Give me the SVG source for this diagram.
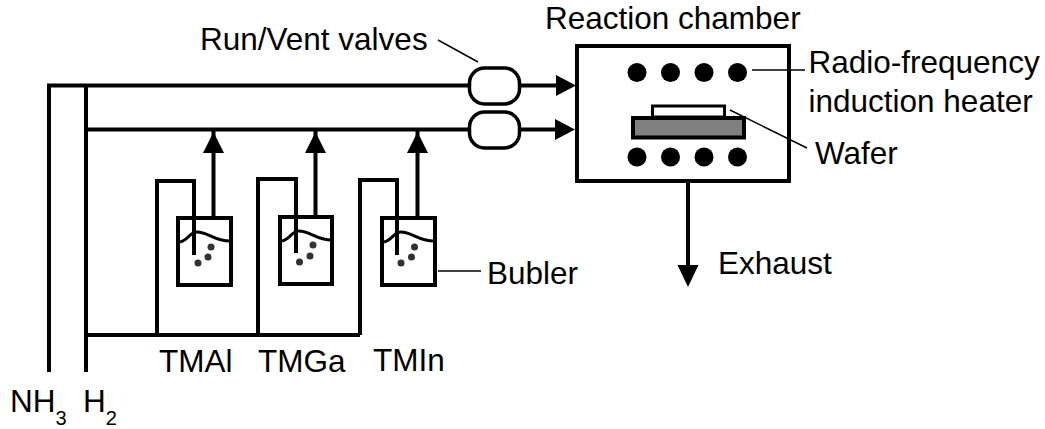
<svg xmlns="http://www.w3.org/2000/svg" width="1045" height="429" viewBox="0 0 1045 429">
<style>
.l{fill:none;stroke:#000;stroke-width:4}
.t{stroke:#000;stroke-width:1.500;fill:none}
.h{fill:#000}
.v{fill:#fff;stroke:#000;stroke-width:3.500}
.b{fill:#fff;stroke:#000;stroke-width:4}
.bub{fill:#333}
.w{fill:none;stroke:#000;stroke-width:3}
text{font-family:"Liberation Sans",Arial,sans-serif;font-size:31.500px;fill:#000}
.s{font-size:20px}
</style>
<rect width="1045" height="429" fill="#fff"/>
<g id="bubbler-tmal">
<rect class="b" x="178" y="218" width="53" height="67"/>
<path class="l" d="M157 335V181H194V255"/>
<path class="w" d="M180 242C188 240 190 232 197 232C208 232 214 241 230 241"/>
<circle class="bub" cx="211" cy="247" r="3.500"/><circle class="bub" cx="208" cy="257" r="3.500"/><circle class="bub" cx="198" cy="263" r="3.500"/>
</g>
<g id="bubbler-tmga">
<rect class="b" x="280" y="217" width="52" height="67"/>
<path class="l" d="M258 335V179H296V253"/>
<path class="w" d="M282 241C290 239 292 231 299 231C310 231 316 240 332 240"/>
<circle class="bub" cx="313" cy="245" r="3.500"/><circle class="bub" cx="310" cy="256" r="3.500"/><circle class="bub" cx="299.500" cy="262" r="3.500"/>
</g>
<g id="bubbler-tmin">
<rect class="b" x="382" y="218" width="53" height="67"/>
<path class="l" d="M360 335V180H397V255"/>
<path class="w" d="M384 242C392 240 394 232 401 232C412 232 418 241 434 241"/>
<circle class="bub" cx="414.500" cy="247" r="3.500"/><circle class="bub" cx="411.500" cy="257" r="3.500"/><circle class="bub" cx="401" cy="263" r="3.500"/>
</g>
<g id="connectors">
<path class="l" d="M49 372V85.500H470M86 372V85.500M86 129.500H470M520 85.500H560M520 129.500H560"/>
<path class="l" d="M86 335H360M213.500 131V218M315.500 131V217M417.500 131V218M688 181V268"/>
<path class="h" d="M576 85.500L556 75V96ZM575 129.500L555 119V140ZM213.500 132L203 153H224ZM315.500 132L305 153H326ZM417.500 132L407 153H428ZM688 287L677.500 265H698.500Z"/>
</g>
<g id="valve-run"><rect class="v" x="469.500" y="68" width="50" height="36" rx="15"/></g>
<g id="valve-vent"><rect class="v" x="469.500" y="112" width="50" height="36" rx="15"/></g>
<g id="reaction-chamber">
<rect class="b" x="577" y="46" width="212" height="135"/>
<circle class="h" cx="637" cy="72.500" r="9.500"/><circle class="h" cx="670.500" cy="72.500" r="9.500"/><circle class="h" cx="704" cy="72.500" r="9.500"/><circle class="h" cx="737.500" cy="72.500" r="9.500"/>
<circle class="h" cx="637" cy="157" r="9.500"/><circle class="h" cx="670.500" cy="157" r="9.500"/><circle class="h" cx="704" cy="157" r="9.500"/><circle class="h" cx="737.500" cy="157" r="9.500"/>
<rect x="652.500" y="106" width="72" height="11" fill="#fff" stroke="#000" stroke-width="3"/>
<rect x="633" y="118" width="111" height="19.500" fill="#808080" stroke="#000" stroke-width="4"/>
</g>
<g id="leaders">
<path class="t" d="M438 40L478 62M752 70H805M730 110L807 148M438 271H481"/>
</g>
<g id="labels">
<text x="545" y="29">Reaction chamber</text>
<text x="200" y="50">Run/Vent valves</text>
<text x="808.500" y="73">Radio-frequency</text>
<text x="808.500" y="112">induction heater</text>
<text x="815" y="164">Wafer</text>
<text x="487" y="284">Bubler</text>
<text x="718" y="274">Exhaust</text>
<text x="159" y="372">TMAl</text>
<text x="258" y="372">TMGa</text>
<text x="373" y="370.500">TMIn</text>
<text x="10" y="412">NH<tspan class="s" dy="13">3</tspan></text>
<text x="83" y="412">H<tspan class="s" dy="13">2</tspan></text>
</g>
</svg>
